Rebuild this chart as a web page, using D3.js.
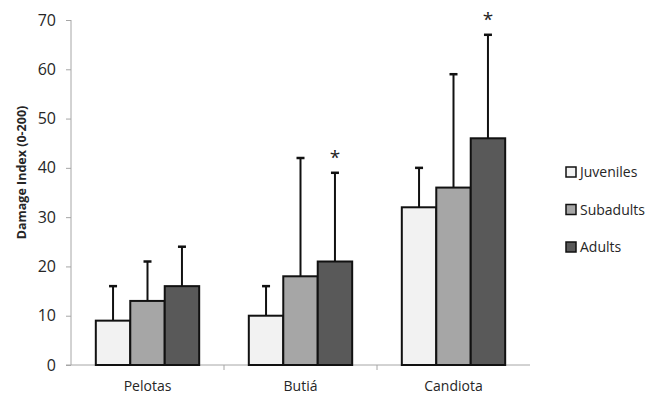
<!DOCTYPE html>
<html lang="en">
<head>
<meta charset="UTF-8">
<title>Damage Index by site and age class</title>
<script src="https://d3js.org/d3.v7.min.js"></script>
<style>
    body { margin: 0; background: #fff; }
    svg text { font-family: "Open Sans", Arial, sans-serif; fill: #262626; }
    .axis path, .axis line { stroke: #a6a6a6; }
</style>
</head>
<body>
<div id="chart"></div>
<script>
    // Data
    const sites = ["Pelotas", "Butiá", "Candiota"];
    const groups = ["Juveniles", "Subadults", "Adults"];
    const means = [
        [9, 13, 16],
        [10, 18, 21],
        [32, 36, 46]
    ];
    const upper = [
        [16, 21, 24],
        [16, 42, 39],
        [40, 59, 67]
    ];
    const significant = [
        [false, false, false],
        [false, false, true],
        [false, false, true]
    ];
    const yTicks = [0, 10, 20, 30, 40, 50, 60, 70];
    const colors = ["#f2f2f2", "#a6a6a6", "#595959"];

    const W = 651, H = 395;
    const margin = {top: 20, right: 121, bottom: 30, left: 71};
    const width = W - margin.left - margin.right;
    const height = H - margin.top - margin.bottom;

    const svg = d3.select("#chart").append("svg")
        .attr("width", W).attr("height", H);
    const g = svg.append("g")
        .attr("transform", `translate(${margin.left},${margin.top})`);

    const x0 = d3.scaleBand().domain(sites).range([0, width]).padding(0);
    const x1 = d3.scaleBand().domain(groups)
        .range([0, x0.bandwidth()]).paddingOuter(0.72).paddingInner(0);
    const y = d3.scaleLinear().domain([0, 70]).range([height, 0]);
    const color = d3.scaleOrdinal().domain(groups).range(colors);

    // y axis
    const yAxis = g.append("g").attr("class", "axis")
        .call(d3.axisLeft(y).tickValues(yTicks).tickSize(5).tickPadding(10));
    yAxis.select(".domain").attr("d", `M0,${height}V0`);
    yAxis.selectAll("text").style("font-size", "16px");

    // x axis with separators between categories
    const xAxis = g.append("g").attr("class", "axis")
        .attr("transform", `translate(0,${height})`);
    xAxis.append("line").attr("x1", -5).attr("x2", width).attr("stroke", "#a6a6a6");
    xAxis.selectAll(".sep").data(sites.slice(1)).enter().append("line")
        .attr("x1", d => x0(d)).attr("x2", d => x0(d))
        .attr("y1", 0).attr("y2", 5).attr("stroke", "#a6a6a6");
    xAxis.selectAll(".lbl").data(sites).enter().append("text")
        .attr("x", d => x0(d) + x0.bandwidth() / 2)
        .attr("y", 26)
        .attr("text-anchor", "middle")
        .style("font-size", "14px")
        .text(d => d);

    // y axis title
    g.append("text")
        .attr("transform", `translate(${-45},${height / 2 - 20}) rotate(-90)`)
        .attr("text-anchor", "middle")
        .style("font-size", "12.5px")
        .style("font-weight", "bold")
        .text("Damage Index (0-200)");

    // flatten
    const rows = [];
    sites.forEach((s, i) => groups.forEach((gr, j) => rows.push({
        site: s, group: gr, mean: means[i][j], up: upper[i][j], sig: significant[i][j]
    })));

    const cx = d => x0(d.site) + x1(d.group) + x1.bandwidth() / 2;

    // error bars (drawn first so bars sit on top)
    g.selectAll(".err").data(rows).enter().append("line")
        .attr("x1", cx).attr("x2", cx)
        .attr("y1", d => y(d.mean)).attr("y2", d => y(d.up))
        .attr("stroke", "#111").attr("stroke-width", 2);
    g.selectAll(".cap").data(rows).enter().append("line")
        .attr("x1", d => cx(d) - 4).attr("x2", d => cx(d) + 4)
        .attr("y1", d => y(d.up)).attr("y2", d => y(d.up))
        .attr("stroke", "#111").attr("stroke-width", 2.5);

    g.selectAll(".bar").data(rows).enter().append("rect")
        .attr("x", d => x0(d.site) + x1(d.group))
        .attr("y", d => y(d.mean))
        .attr("width", x1.bandwidth())
        .attr("height", d => height - y(d.mean))
        .attr("fill", d => color(d.group))
        .attr("stroke", "#111").attr("stroke-width", 2);

    g.selectAll(".star").data(rows.filter(d => d.sig)).enter().append("text")
        .attr("x", cx)
        .attr("y", d => y(d.up) - 9)
        .attr("text-anchor", "middle")
        .style("font-size", "19px")
        .style("fill", "#222")
        .text("*");

    // legend
    const legend = svg.append("g").attr("transform", "translate(566,172)");
    const li = legend.selectAll("g").data(groups).enter().append("g")
        .attr("transform", (d, i) => `translate(0,${i * 37.5})`);
    li.append("rect")
        .attr("x", 0).attr("y", -5).attr("width", 10).attr("height", 10)
        .attr("fill", d => color(d)).attr("stroke", "#111").attr("stroke-width", 1.5);
    li.append("text")
        .attr("x", 14).attr("y", 5)
        .style("font-size", "14px")
        .text(d => d);
</script>
</body>
</html>
